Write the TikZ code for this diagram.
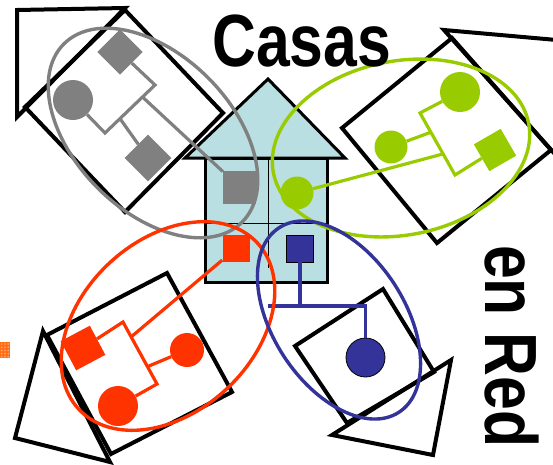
\documentclass[tikz,border=0pt]{standalone}
\usepackage{fontspec}
\usepackage{graphicx}
\usetikzlibrary{calc}
\newfontfamily\arialfont{Liberation Sans}
\definecolor{famgray}{RGB}{128,128,128}
\definecolor{famgreen}{RGB}{153,204,0}
\definecolor{famred}{RGB}{255,51,0}
\definecolor{famblue}{RGB}{51,51,153}
\definecolor{houseblue}{RGB}{185,223,227}
\definecolor{patchorange}{RGB}{255,110,20}
\begin{document}
\begin{tikzpicture}[x=1pt,y=-1pt,
  outline/.style={draw=black, line width=4pt, line join=miter},
  centerline/.style={draw=black, line width=3pt, line join=miter, fill=houseblue},
  loopline/.style={line width=3.4pt},
  sqnode/.style={rectangle, inner sep=0pt, minimum size=#1},
  dotnode/.style={circle, inner sep=0pt, minimum size=#1},
  link/.style={line width=3.2pt, line join=miter},
  titletext/.style={inner sep=0pt, font=\arialfont\bfseries\fontsize{74}{80}\selectfont}
]
\useasboundingbox (0,0) rectangle (553,464);
\clip (0,0) rectangle (553,464);

% small orange patch
\fill[patchorange] (0,342) rectangle (10,358);
\foreach \i in {0,1,2} {\foreach \j in {0,...,4} {
  \fill[white, opacity=0.45] (1.7+\i*3.3,344+\j*3.2) circle (0.9);}}

% black outline houses
\draw[outline] (17,10) -- (125,8) -- (17,117) -- cycle;
\draw[outline] (125,10) -- (223,113) -- (125,212) -- (25,107) -- cycle;
\draw[outline] (444,30) -- (568,41) -- (562,162) -- cycle;
\draw[outline] (452,38) -- (551,150) -- (437,243) -- (342,128) -- cycle;
\draw[outline] (43,331) -- (15,438) -- (110,462) -- cycle;
\draw[outline] (47,335) -- (167,273) -- (232,392) -- (111,454) -- cycle;
\draw[outline] (332,435) -- (451,360) -- (433,455) -- cycle;
\draw[outline] (383,289) -- (295,346) -- (347,423) -- (434,372) -- cycle;

% central house
\draw[centerline] (185,158) -- (268,79) -- (345,158) -- cycle;
\draw[centerline] (205,158) rectangle (327,282);
\draw[line width=1pt] (268,158) -- (268,268) (205,223) -- (327,223);

% gray family
\node[sqnode=32pt, rotate=45, fill=famgray] (g1) at (120,52) {};
\node[sqnode=33pt, rotate=45, fill=famgray] (g2) at (148,158) {};
\node[dotnode=40pt, fill=famgray] (g3) at (73,100) {};
\node[sqnode=33pt, fill=famgray] (g4) at (239.5,187) {};
\coordinate (gA) at (155,85);
\coordinate (gB) at (105,133);
\draw[link, famgray] (g1) -- (gA) -- (gB) -- (g3);
\draw[link, famgray] ($(gA)!0.7!(gB)$) -- (g2);
\draw[link, famgray] ($(gA)!0.25!(gB)$) -- (g4);

% green family
\node[dotnode=40pt, fill=famgreen] (n1) at (460,92) {};
\node[dotnode=33pt, fill=famgreen] (n2) at (391,147) {};
\node[sqnode=31pt, rotate=30, fill=famgreen] (n3) at (495,150) {};
\node[dotnode=33pt, fill=famgreen] (n4) at (297,193) {};
\coordinate (nC) at (420,113);
\coordinate (nD) at (455,175);
\draw[link, famgreen] (n1) -- (nC) -- (nD) -- (n3);
\draw[link, famgreen] ($(nC)!0.31!(nD)$) -- (n2);
\draw[link, famgreen] ($(nC)!0.66!(nD)$) -- (n4);

% red family
\node[sqnode=33pt, rotate=28, fill=famred] (r1) at (83,348) {};
\node[dotnode=40pt, fill=famred] (r2) at (118,406) {};
\node[dotnode=34pt, fill=famred] (r3) at (187,350) {};
\node[sqnode=27pt, fill=famred] (r4) at (236,248.5) {};
\coordinate (rE) at (123,322);
\coordinate (rF) at (157,384);
\draw[link, famred] (r1) -- (rE) -- (rF) -- (r2);
\draw[link, famred] ($(rE)!0.72!(rF)$) -- (r3);
\draw[link, famred] ($(rE)!0.24!(rF)$) -- (r4);

% blue family
\coordinate (bL) at (268,306);
\coordinate (bJ) at (300,306);
\coordinate (bR) at (365.5,306);
\node[sqnode=27pt, fill=famblue, draw=black, line width=0.8pt] (b1) at (300,248.5) {};
\node[dotnode=39pt, fill=famblue, draw=black, line width=0.8pt] (b2) at (365.5,357.5) {};
\draw[link, famblue] (b1.south) -- (bJ);
\draw[link, famblue] (bL) -- (bR) -- (b2.north);

% family loops
\draw[loopline, famgray, rotate around={-45:(153,133)}] (153,133) ellipse [x radius=126pt, y radius=78pt];
\draw[loopline, famgreen, rotate around={11:(401,148)}] (401,148) ellipse [x radius=130pt, y radius=87pt];
\draw[loopline, famred, rotate around={43:(168,326)}] (168,326) ellipse [x radius=122pt, y radius=86pt];
\draw[loopline, famblue, rotate around={-57:(339,320)}] (339,320) ellipse [x radius=110pt, y radius=66pt];

% titles
\node[titletext, anchor=base west] (t1) at (212,66) {\scalebox{0.82}[1]{Casas}};
\node[titletext, anchor=base west, rotate=-90] (t2) at (485,245) {\scalebox{0.82}[1]{en Red}};
\end{tikzpicture}
\end{document}
